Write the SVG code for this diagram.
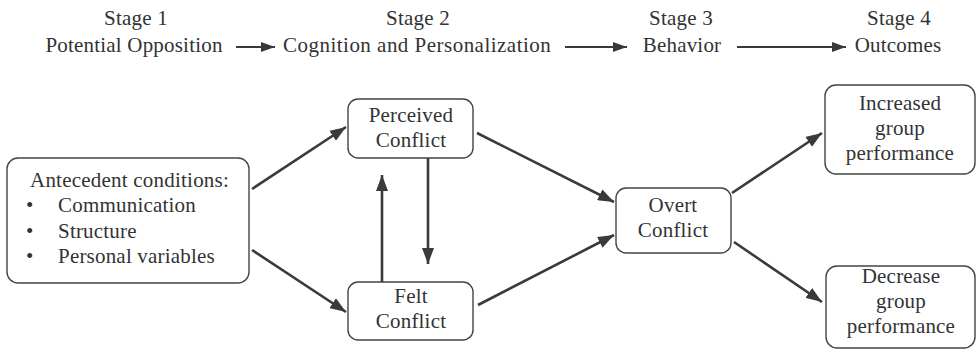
<svg xmlns="http://www.w3.org/2000/svg" width="978" height="353" viewBox="0 0 978 353">
<defs>
<marker id="ah" markerUnits="userSpaceOnUse" markerWidth="16" markerHeight="12" refX="16" refY="6" orient="auto">
<path d="M0,0 L16,6 L0,12 Z" fill="#3a3a3a"/>
</marker>
<marker id="ahs" markerUnits="userSpaceOnUse" markerWidth="14" markerHeight="10" refX="14" refY="5" orient="auto">
<path d="M0,0 L14,5 L0,10 Z" fill="#3a3a3a"/>
</marker>
</defs>
<style>
text{font-family:'Liberation Serif','Times New Roman',serif;font-size:21px;fill:#333;letter-spacing:0.2px}
.c{text-anchor:middle}
.box{fill:#fff;stroke:#444;stroke-width:1.4}
.con line{stroke:#3a3a3a;stroke-width:2.6;marker-end:url(#ah)}
.hdr line{stroke:#3a3a3a;stroke-width:2.2;marker-end:url(#ahs)}
</style>
<rect width="978" height="353" fill="#fff"/>
<g id="header">
<text class="c" x="136" y="25">Stage 1</text>
<text class="c" x="134" y="52">Potential Opposition</text>
<text class="c" x="418" y="25">Stage 2</text>
<text class="c" x="417" y="52" textLength="268" lengthAdjust="spacing">Cognition and Personalization</text>
<text class="c" x="681" y="25">Stage 3</text>
<text class="c" x="682" y="52">Behavior</text>
<text class="c" x="899" y="25">Stage 4</text>
<text class="c" x="898" y="52">Outcomes</text>
<g class="hdr">
<line x1="236" y1="47" x2="275" y2="47"/>
<line x1="565" y1="47" x2="627" y2="47"/>
<line x1="737" y1="47" x2="846" y2="47"/>
</g>
</g>
<g id="antecedent">
<rect class="box" x="7" y="158" width="242" height="125" rx="11"/>
<text x="30" y="187" textLength="199" lengthAdjust="spacing">Antecedent conditions:</text>
<text x="26" y="212">•</text><text x="58" y="212">Communication</text>
<text x="26" y="238">•</text><text x="58" y="238">Structure</text>
<text x="26" y="263">•</text><text x="58" y="263">Personal variables</text>
</g>
<g id="perceived">
<rect class="box" x="348" y="99" width="125" height="59" rx="10"/>
<text class="c" x="411" y="122">Perceived</text>
<text class="c" x="411" y="147">Conflict</text>
</g>
<g id="felt">
<rect class="box" x="348" y="282" width="125" height="58" rx="10"/>
<text class="c" x="411" y="303">Felt</text>
<text class="c" x="411" y="328">Conflict</text>
</g>
<g id="overt">
<rect class="box" x="616" y="188" width="115" height="65" rx="10"/>
<text class="c" x="673" y="212">Overt</text>
<text class="c" x="673" y="237">Conflict</text>
</g>
<g id="increased">
<rect class="box" x="825" y="85" width="150" height="89" rx="11"/>
<text class="c" x="900" y="110">Increased</text>
<text class="c" x="900" y="135">group</text>
<text class="c" x="900" y="160">performance</text>
</g>
<g id="decrease">
<rect class="box" x="826" y="266" width="149" height="82" rx="11"/>
<text class="c" x="901" y="283">Decrease</text>
<text class="c" x="901" y="308">group</text>
<text class="c" x="901" y="333">performance</text>
</g>
<g id="connectors" class="con">
<line x1="252" y1="189" x2="346" y2="127"/>
<line x1="252" y1="250" x2="346" y2="312"/>
<line x1="428" y1="158" x2="428" y2="264"/>
<line x1="382" y1="282" x2="382" y2="175"/>
<line x1="477" y1="133" x2="614" y2="202"/>
<line x1="478" y1="305" x2="614" y2="235"/>
<line x1="732" y1="193" x2="822" y2="133"/>
<line x1="734" y1="242" x2="822" y2="302"/>
</g>
</svg>
